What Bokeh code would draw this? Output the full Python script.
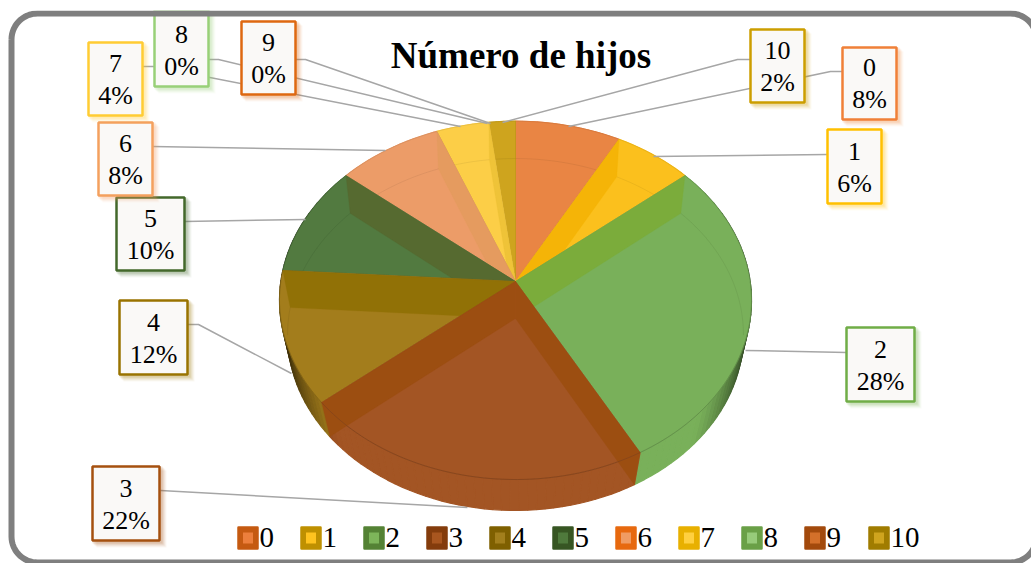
import numpy as np
from bokeh.plotting import figure
from bokeh.models import Range1d
from bokeh.core.properties import value
from bokeh.embed import file_html
from bokeh.resources import INLINE

# ---- data ----
categories = ["0", "1", "2", "3", "4", "5", "6", "7", "8", "9", "10"]
percents = [8, 6, 28, 22, 12, 10, 8, 4, 0, 0, 2]
title_text = "Número de hijos"

# ---- styles ----
face_colors = ["#E98544", "#FBC01D", "#79B05A", "#A35524", "#A37D1C", "#527A40",
               "#EC9C68", "#FCCE47", "#94C97A", "#D9702A", "#CEA41E"]
wall_colors = ["#E3792F", "#F5B407", "#7BAC3B", "#9C4E11", "#917106", "#566A30",
               "#E59B5F", "#EFC338", "#8CC070", "#C86420", "#C89C18"]
legend_outer = ["#C55A11", "#BF9000", "#548235", "#843C0C", "#7F6000", "#375623",
                "#E7690F", "#E8B000", "#6AA047", "#A34A0C", "#A07C00"]
legend_inner = ["#EC7F3C", "#FFC31F", "#7DB55A", "#A9561F", "#A27F1C", "#4F7A3C",
                "#F09C63", "#FFD03F", "#97CB7A", "#D4702A", "#CFA41E"]
label_borders = ["#F08038", "#FFC000", "#70AD47", "#A5500F", "#997300", "#43682B",
                 "#F4A05E", "#FFCC33", "#98D078", "#DE6811", "#CC9E00"]
# label boxes: left, right, top, bottom (pixels)
label_boxes = [(842, 896, 47, 119), (827, 881, 129, 203), (846, 914, 327, 401),
               (92, 159, 466, 540), (119, 187, 300, 374), (116, 184, 197, 270),
               (98, 152, 122, 195), (88, 142, 42, 115), (154, 208, 10, 86),
               (241, 295, 21, 94), (750, 804, 29, 102)]
leaders = [
    [(842, 71), (830, 71), (568, 126)],
    [(827, 154), (653, 156)],
    [(846, 352), (745, 350)],
    [(160, 490), (467, 507)],
    [(187, 324), (198, 324), (291, 373)],
    [(184, 221), (305, 219)],
    [(152, 146), (385, 150)],
    [(142, 66), (153, 66), (460, 126)],
    [(208, 59), (218, 59), (487, 123)],
    [(295, 59), (305, 59), (490, 123)],
    [(750, 59), (737, 59), (502, 122)],
]
legend_x = [237, 300, 363, 426, 489, 552, 615, 678, 741, 804, 868]

TOP = dict(xa=515.0, ya=281.0, g=234.7, h=177.2, k=0.1052)
BOT = dict(xa=515.0, ya=318.0, g=227.0, h=174.5, k=0.0909)


def proj(theta, lv):
    X, Y = np.sin(theta), np.cos(theta)
    w = 1 + lv["k"] * Y
    return lv["xa"] + lv["g"] * X / w, lv["ya"] - lv["h"] * Y / w


def arc(a0, a1, lv, step=np.radians(1.5)):
    n = max(2, int(abs(a1 - a0) / step) + 2)
    return proj(np.linspace(a0, a1, n), lv)


def mix(c, f):
    r, g, b = (int(c[i:i + 2], 16) for i in (1, 3, 5))
    return "#%02x%02x%02x" % (int(r * f), int(g * f), int(b * f))


p = figure(width=1031, height=563, x_range=Range1d(0, 1031), y_range=Range1d(563, 0),
           x_axis_type=None, y_axis_type=None, toolbar_location=None,
           output_backend="svg", min_border=0, outline_line_color=None,
           background_fill_color="white", border_fill_color="white")
p.grid.visible = False

fracs = np.array(percents, dtype=float) / sum(percents)
cum = np.concatenate([[0], np.cumsum(fracs)])
angles = cum * 2 * np.pi

# outer side wall, shaded towards the extremes
qx, qy, qc = [], [], []
for i in range(len(percents)):
    if percents[i] == 0:
        continue
    a0, a1 = angles[i], angles[i + 1]
    ts = np.arange(a0, a1 + 0.001, np.radians(2.0))
    ts = np.append(ts, a1)
    for t0, t1 in zip(ts[:-1], ts[1:]):
        if t1 <= t0:
            continue
        tx0, ty0 = proj(t0, TOP); tx1, ty1 = proj(t1, TOP)
        bx0, by0 = proj(t0, BOT); bx1, by1 = proj(t1, BOT)
        X = abs(np.sin((t0 + t1) / 2))
        f = 1 - 0.68 * np.clip((X - 0.72) / 0.28, 0, 1) ** 1.3
        qx.append([tx0, tx1, bx1, bx0]); qy.append([ty0, ty1, by1, by0])
        qc.append(mix(face_colors[i], f))
p.patches(qx, qy, fill_color=qc, line_color=qc, line_width=1.2)

# slices, far ones first so that nearer ones cover the overlaps
order = [0, 1, 2, 10, 9, 8, 7, 6, 5, 4, 3]
for i in order:
    if percents[i] == 0:
        continue
    a0, a1 = angles[i], angles[i + 1]
    rx, ry = arc(a0, a1, TOP)
    xa, ya = TOP["xa"], TOP["ya"]
    p.patch(list(rx) + [xa], list(ry) + [ya], fill_color=face_colors[i],
            line_color=mix(face_colors[i], 0.9), line_width=0.7)
    walls = []
    if cum[i] < 0.5:
        walls.append(a0)
    if cum[i + 1] > 0.5:
        walls.append(a1)
    for a in walls:
        tx, ty = proj(a, TOP)
        bx, by = proj(a, BOT)
        p.patch([xa, tx, bx, BOT["xa"]], [ya, ty, by, BOT["ya"]],
                fill_color=wall_colors[i], line_color=wall_colors[i], line_width=0.3)
    # faint rim lines seen through the slice
    lim0, lim1 = max(a0, 0), a1
    for lo, hi in ((lim0, min(lim1, np.pi * 0.53)), (max(lim0, np.pi * 1.47), lim1)):
        if hi > lo:
            lx, ly = arc(lo, hi, BOT)
            p.line(lx, ly, line_color=mix(face_colors[i], 0.8), line_width=0.6, line_alpha=0.5)
    lo, hi = max(a0, np.pi * 0.5), min(a1, np.pi * 1.5)
    if hi > lo:
        lx, ly = arc(lo, hi, TOP)
        p.line(lx, ly, line_color=mix(face_colors[i], 0.78), line_width=0.8, line_alpha=0.8)

# leaders
p.multi_line([[q[0] for q in l] for l in leaders], [[q[1] for q in l] for l in leaders],
             line_color="#A6A6A6", line_width=1.5)

# labels
SERIF = value("Liberation Serif")
for i, (l, r, t, b) in enumerate(label_boxes):
    for d, a in ((7, 0.05), (6, 0.06), (5, 0.08), (4, 0.10), (3, 0.12)):
        p.quad(left=[l + d - 3], right=[r + d], top=[t + d - 3], bottom=[b + d],
               fill_color=label_borders[i], fill_alpha=a, line_color=None)
    p.quad(left=[l], right=[r], top=[t], bottom=[b], fill_color="#FAF9F7",
           line_color=label_borders[i], line_width=2.5)
    cx = (l + r) / 2
    p.text([cx], [b - 52.5], text=[categories[i]], text_align="center", text_baseline="middle",
           text_font=SERIF, text_font_size="26px", text_color="#000000")
    p.text([cx], [b - 20.5], text=["%d%%" % percents[i]], text_align="center", text_baseline="middle",
           text_font=SERIF, text_font_size="26px", text_color="#000000")

# title
p.text([520.5], [54.5], text=[title_text], text_align="center", text_baseline="middle",
       text_font=SERIF, text_font_size="37px", text_font_style="bold", text_color="#000000")

# legend
for i, lx in enumerate(legend_x):
    p.quad(left=[lx + 1], right=[lx + 20], top=[527], bottom=[548], fill_color=legend_outer[i],
           line_color=legend_outer[i], line_width=2.5, line_join="round")
    p.quad(left=[lx + 5.5], right=[lx + 15.5], top=[532], bottom=[543], fill_color=legend_inner[i],
           line_color=None)
    p.text([lx + 22], [537], text=[categories[i]], text_align="left", text_baseline="middle",
           text_font=SERIF, text_font_size="29px", text_color="#000000")

# rounded frame
L, R, T, B, rad = 11.0, 1036.0, 13.0, 562.0, 26.0
fx, fy = [], []
for cx, cy, s in ((L + rad, T + rad, np.pi), (R - rad, T + rad, 1.5 * np.pi),
                  (R - rad, B - rad, 0.0), (L + rad, B - rad, 0.5 * np.pi)):
    tt = np.linspace(s, s + np.pi / 2, 16)
    fx += list(cx + rad * np.cos(tt)); fy += list(cy + rad * np.sin(tt))
fx.append(fx[0]); fy.append(fy[0])
p.line(fx, fy, line_color="#7F7F7F", line_width=6)
# everything above the frame stays white
p.quad(left=[0], right=[1031], top=[0], bottom=[10], fill_color="white", line_color=None)

open("out.html", "w").write(file_html(p, INLINE))
